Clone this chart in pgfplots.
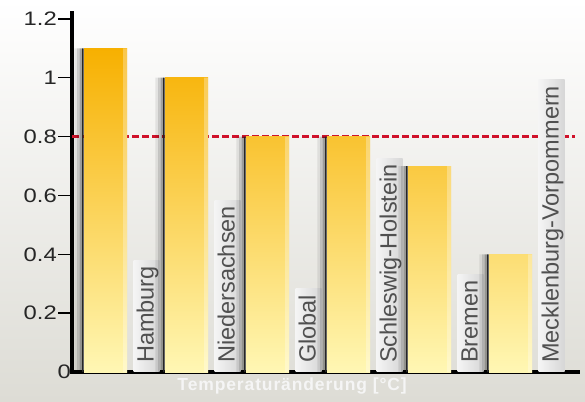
\documentclass[border=0pt]{standalone}
\usepackage{pgfplots}
\pgfplotsset{compat=1.18}
\usepackage{fontspec}
\setmainfont{Liberation Sans}
\newfontfamily\tickfont[FakeStretch=1.22]{Liberation Sans}
\definecolor{barTop}{RGB}{247,176,0}
\definecolor{barBot}{RGB}{255,247,180}
\definecolor{bgBot}{RGB}{221,220,213}
\definecolor{dashred}{RGB}{208,18,42}
\definecolor{labgray}{RGB}{80,80,80}
\newcommand{\statelabel}[2]{%
  \node[rotate=90, anchor=base west, inner xsep=0pt, inner ysep=1pt,
        text height=19pt, text depth=5pt,
        left color=white!96!black, right color=black!16,
        font=\fontsize{23.5}{24}\selectfont, text=labgray]
        at ([xshift=48pt]axis cs:#1,0) {\hspace*{9pt}#2\hspace*{6pt}};}
\pgfplotstableread{
x y
0 1.1
1 1.0
2 0.8
3 0.8
4 0.7
5 0.4
}\bardata
\begin{document}
\begin{tikzpicture}
\useasboundingbox (0pt,0pt) rectangle (585pt,401pt);
\shade[top color=white, bottom color=bgBot] (0pt,0pt) rectangle (585pt,401pt);
\begin{axis}[
  at={(72pt,29pt)}, anchor=south west,
  scale only axis, width=506pt, height=359pt,
  xmin=-0.414, xmax=5.833, ymin=0, ymax=1.22,
  clip=false,
  axis lines=left,
  axis line style={line width=3.5pt, -, black, line cap=rect},
  xtick=\empty,
  ytick={0.2,0.4,0.6,0.8,1,1.2},
  extra y ticks={0},
  extra y tick style={major tick length=0pt},
  tick align=outside,
  major tick length=14pt,
  ytick style={line width=1.5pt, black},
  /pgf/number format/assume math mode=true,
  yticklabel style={font=\tickfont\fontsize{19.5}{20}\selectfont, text=black!85, inner sep=1pt},
  xlabel={Temperaturänderung [°C]},
  xlabel style={at={(axis description cs:0.435,0)}, anchor=center, yshift=-14pt,
                font=\bfseries\addfontfeatures{LetterSpace=5}\fontsize{17.5}{18}\selectfont, text=white!96!black},
]
% reference line
\addplot[dashred, line width=3pt, dash pattern=on 7pt off 3pt] coordinates {(-0.414,0.8) (5.80,0.8)};
% category labels
\statelabel{0}{Hamburg}
\statelabel{1}{Niedersachsen}
\statelabel{2}{Global}
\statelabel{3}{Schleswig-Holstein}
\statelabel{4}{Bremen}
\statelabel{5}{Mecklenburg-Vorpommern}
% shadows (three strips, darker toward the bar)
\addplot[ybar, bar width=2.6pt, bar shift=-29.8pt, draw=none, fill=black, fill opacity=0.08] table {\bardata};
\addplot[ybar, bar width=2.6pt, bar shift=-27.2pt, draw=none, fill=black, fill opacity=0.18] table {\bardata};
\addplot[ybar, bar width=2.6pt, bar shift=-24.6pt, draw=none, fill=black, fill opacity=0.35] table {\bardata};
% black left edges
\addplot[ybar, bar width=1.6pt, bar shift=-22.7pt, draw=none, fill=black!85] table {\bardata};
% bars
\addplot[ybar, bar width=43pt, bar shift=0pt, draw=none, top color=barTop, bottom color=barBot] coordinates {(0,1.1)};
\addplot[ybar, bar width=43pt, bar shift=0pt, draw=none, top color=barTop!91!barBot, bottom color=barBot] coordinates {(1,1.0)};
\addplot[ybar, bar width=43pt, bar shift=0pt, draw=none, top color=barTop!73!barBot, bottom color=barBot] coordinates {(2,0.8)};
\addplot[ybar, bar width=43pt, bar shift=0pt, draw=none, top color=barTop!73!barBot, bottom color=barBot] coordinates {(3,0.8)};
\addplot[ybar, bar width=43pt, bar shift=0pt, draw=none, top color=barTop!64!barBot, bottom color=barBot] coordinates {(4,0.7)};
\addplot[ybar, bar width=43pt, bar shift=0pt, draw=none, top color=barTop!36!barBot, bottom color=barBot] coordinates {(5,0.4)};
% highlight on right edges
\addplot[ybar, bar width=4pt, bar shift=19.5pt, draw=none, fill=white, fill opacity=0.3] table {\bardata};
\end{axis}
\end{tikzpicture}
\end{document}
